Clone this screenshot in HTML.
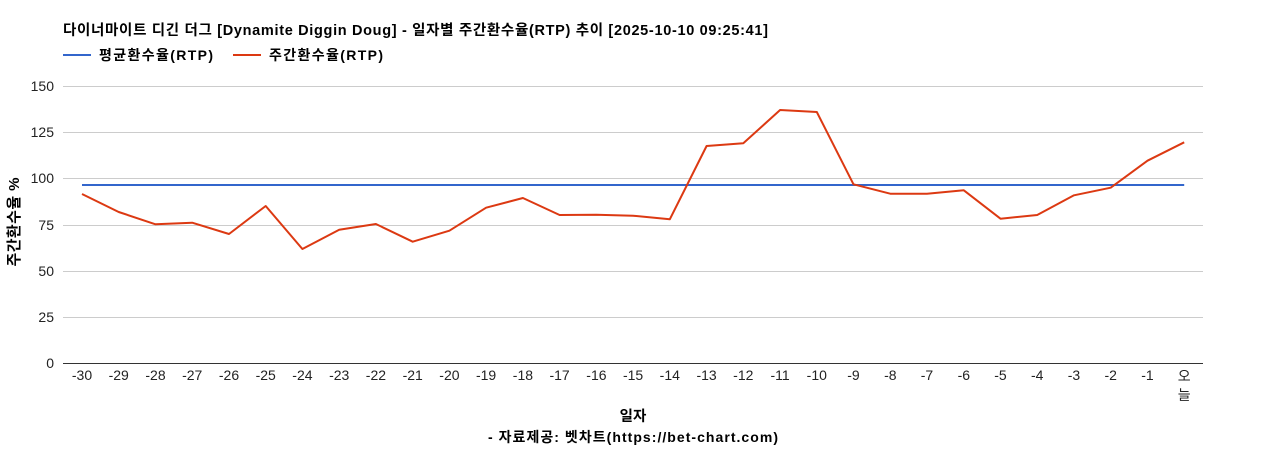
<!DOCTYPE html>
<html><head><meta charset="utf-8"><style>
html,body{margin:0;padding:0;background:#fff;}
svg{display:block;}
text{font-family:"Liberation Sans","Noto Sans CJK KR",sans-serif;}
.b{font-weight:bold;}
</style></head><body>
<svg width="1268" height="450" viewBox="0 0 1268 450" xmlns="http://www.w3.org/2000/svg">
<rect width="1268" height="450" fill="#fff"/>
<text x="63" y="35" class="b" font-size="14.5" fill="#000" textLength="705">다이너마이트 디긴 더그 [Dynamite Diggin Doug] - 일자별 주간환수율(RTP) 추이 [2025-10-10 09:25:41]</text>
<line x1="63" y1="55" x2="91" y2="55" stroke="#3366cc" stroke-width="2"/>
<text x="99" y="60" class="b" font-size="14" fill="#000" textLength="114">평균환수율(RTP)</text>
<line x1="233" y1="55" x2="261" y2="55" stroke="#dc3912" stroke-width="2"/>
<text x="269" y="60" class="b" font-size="14" fill="#000" textLength="114">주간환수율(RTP)</text>
<g stroke="#cccccc" stroke-width="1">
<line x1="63" y1="86.5" x2="1203" y2="86.5"/>
<line x1="63" y1="132.5" x2="1203" y2="132.5"/>
<line x1="63" y1="178.5" x2="1203" y2="178.5"/>
<line x1="63" y1="225.5" x2="1203" y2="225.5"/>
<line x1="63" y1="271.5" x2="1203" y2="271.5"/>
<line x1="63" y1="317.5" x2="1203" y2="317.5"/>
</g>
<line x1="63" y1="363.5" x2="1203" y2="363.5" stroke="#333" stroke-width="1"/>
<g font-size="14" fill="#222" text-anchor="end">
<text x="54" y="91">150</text>
<text x="54" y="137">125</text>
<text x="54" y="183">100</text>
<text x="54" y="230">75</text>
<text x="54" y="276">50</text>
<text x="54" y="322">25</text>
<text x="54" y="368">0</text>
</g>
<text transform="translate(19,222) rotate(-90)" text-anchor="middle" class="b" font-size="15" fill="#000" textLength="89">주간환수율 %</text>
<g font-size="14" fill="#222" text-anchor="middle">
<text x="82" y="380">-30</text><text x="118.7" y="380">-29</text><text x="155.5" y="380">-28</text><text x="192.2" y="380">-27</text><text x="229" y="380">-26</text><text x="265.7" y="380">-25</text><text x="302.4" y="380">-24</text><text x="339.2" y="380">-23</text><text x="375.9" y="380">-22</text><text x="412.7" y="380">-21</text><text x="449.4" y="380">-20</text><text x="486.1" y="380">-19</text><text x="522.9" y="380">-18</text><text x="559.6" y="380">-17</text><text x="596.4" y="380">-16</text><text x="633.1" y="380">-15</text><text x="669.8" y="380">-14</text><text x="706.6" y="380">-13</text><text x="743.3" y="380">-12</text><text x="780.1" y="380">-11</text><text x="816.8" y="380">-10</text><text x="853.5" y="380">-9</text><text x="890.3" y="380">-8</text><text x="927" y="380">-7</text><text x="963.8" y="380">-6</text><text x="1000.5" y="380">-5</text><text x="1037.2" y="380">-4</text><text x="1074" y="380">-3</text><text x="1110.7" y="380">-2</text><text x="1147.5" y="380">-1</text>
<text x="1184.2" y="381">오</text><text x="1184.2" y="400">늘</text>
</g>
<text x="633" y="421" text-anchor="middle" class="b" font-size="14.5" fill="#000">일자</text>
<text x="633" y="442" text-anchor="middle" class="b" font-size="14" fill="#000" textLength="290">- 자료제공: 벳차트(https://bet-chart.com)</text>
<line x1="82" y1="185" x2="1184.2" y2="185" stroke="#3366cc" stroke-width="2"/>
<polyline fill="none" stroke="#dc3912" stroke-width="2" stroke-linejoin="round" points="82,194 118.7,212 155.5,224.3 192.2,222.7 229,234 265.7,206 302.4,249 339.2,229.7 375.9,224 412.7,241.7 449.4,230.7 486.1,207.7 522.9,198 559.6,215 596.4,214.7 633.1,215.7 669.8,219.3 706.6,146 743.3,143.3 780.1,110 816.8,112 853.5,184.3 890.3,193.7 927,193.7 963.8,190.3 1000.5,218.7 1037.2,215 1074,195.3 1110.7,187.7 1147.5,160.7 1184.2,142.3"/>
</svg>
</body></html>
